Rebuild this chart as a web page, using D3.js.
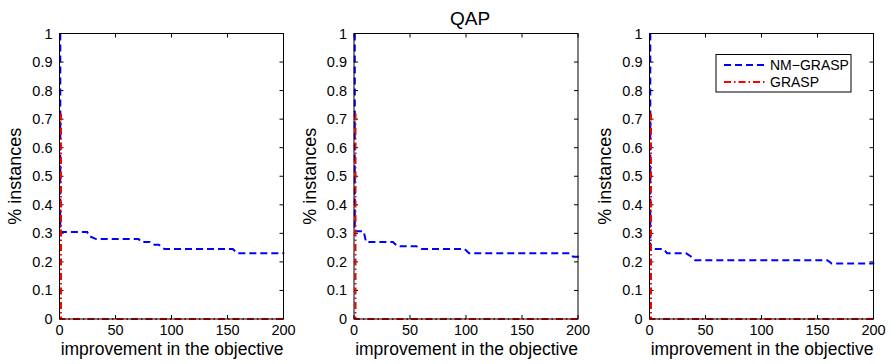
<!DOCTYPE html>
<html><head><meta charset="utf-8">
<script src="https://cdn.jsdelivr.net/npm/d3@7"></script>
<style>body{margin:0;background:#fff}svg{display:block}text{font-family:"Liberation Sans",Arial,sans-serif}</style>
</head><body>
<svg id="c" width="893" height="364"></svg>
<script>
// Data
const xTicks = [0, 50, 100, 150, 200];
const yTicks = [0, 0.1, 0.2, 0.3, 0.4, 0.5, 0.6, 0.7, 0.8, 0.9, 1];
const seriesNames = ["NM\u2212GRASP", "GRASP"];
const nm1 = [[0,1],[0,0.305],[24,0.305],[26,0.29],[32,0.28],[70,0.28],[72,0.27],[80,0.27],[84,0.26],[88,0.26],[93,0.245],[154,0.245],[158,0.23],[200,0.23]];
const nm2 = [[0,1],[0,0.307],[8,0.307],[10,0.27],[34,0.27],[38,0.255],[55,0.255],[60,0.245],[98,0.245],[102,0.23],[192,0.23],[195,0.218],[200,0.218]];
const nm3 = [[0,1],[0,0.245],[12,0.245],[15,0.23],[32,0.23],[36,0.22],[40,0.206],[158,0.206],[162,0.194],[200,0.194]];
const gr1 = [[0,0.72],[0,0],[200,0]];
const gr2 = [[0,0.72],[0,0],[200,0]];
const gr3 = [[0,0.72],[0,0],[200,0]];
const panels = [
  {left: 59.5, nm: nm1, gr: gr1, legend: false},
  {left: 354, nm: nm2, gr: gr2, legend: false},
  {left: 649.5, nm: nm3, gr: gr3, legend: true}
];
const title = "QAP";
const xLabel = "improvement in the objective";
const yLabel = "% instances";

const svg = d3.select("#c");
const W = 224, axTop = 33.5, axBottom = 319;
const tickLen = 4;

panels.forEach(p => {
  const x = d3.scaleLinear().domain([0, 200]).range([p.left, p.left + W]);
  const y = d3.scaleLinear().domain([0, 1]).range([axBottom, axTop]);
  const g = svg.append("g");
  const tg = g.append("g").attr("stroke", "#000").attr("stroke-width", 1);
  xTicks.forEach(t => {
    tg.append("line").attr("x1", x(t)).attr("x2", x(t)).attr("y1", axBottom).attr("y2", axBottom - tickLen);
    tg.append("line").attr("x1", x(t)).attr("x2", x(t)).attr("y1", axTop).attr("y2", axTop + tickLen);
  });
  yTicks.forEach(t => {
    tg.append("line").attr("x1", p.left).attr("x2", p.left + tickLen).attr("y1", y(t)).attr("y2", y(t));
    tg.append("line").attr("x1", p.left + W).attr("x2", p.left + W - tickLen).attr("y1", y(t)).attr("y2", y(t));
  });
  g.selectAll(".xt").data(xTicks).enter().append("text")
    .attr("x", d => x(d)).attr("y", 335).attr("text-anchor", "middle")
    .attr("font-size", 14.5).text(d => d);
  g.selectAll(".yt").data(yTicks).enter().append("text")
    .attr("x", p.left - 7).attr("y", d => y(d) + 5).attr("text-anchor", "end")
    .attr("font-size", 14.5).text(d => d === 0 ? "0" : d === 1 ? "1" : d3.format(".1f")(d));
  g.append("text").attr("x", p.left + W / 2 + 0.5).attr("y", 354.5).attr("text-anchor", "middle")
    .attr("font-size", 17.5).text(xLabel);
  g.append("text").attr("transform", `translate(${p.left - 38.5},${(axTop + axBottom) / 2}) rotate(-90)`)
    .attr("text-anchor", "middle").attr("font-size", 18).text(yLabel);

  const line = d3.line().x(d => x(d[0])).y(d => y(d[1]));
  g.append("path").datum(p.nm).attr("d", line).attr("fill", "none")
    .attr("stroke", "#0000ff").attr("stroke-width", 2).attr("stroke-dasharray", "7,4")
    .attr("transform", "translate(0.8,0)");
  g.append("path").datum(p.gr).attr("d", line).attr("fill", "none")
    .attr("stroke", "#ff0000").attr("stroke-width", 2).attr("stroke-dasharray", "7,3,1.5,3")
    .attr("transform", "translate(1.5,0)");
  g.append("rect").attr("x", p.left).attr("y", axTop).attr("width", W).attr("height", axBottom - axTop)
    .attr("fill", "none").attr("stroke", "#000").attr("stroke-width", 1);

  if (p.legend) {
    const lx = 716, ly = 54.5, lw = 135, lh = 37.5;
    const lg = g.append("g");
    lg.append("rect").attr("x", lx).attr("y", ly).attr("width", lw).attr("height", lh)
      .attr("fill", "#fff").attr("stroke", "#000").attr("stroke-width", 1);
    const styles = [{c: "#0000ff", d: "7,4"}, {c: "#ff0000", d: "7,3,1.5,3"}];
    seriesNames.forEach((n, i) => {
      const yy = ly + 10.5 + i * 17;
      lg.append("line").attr("x1", lx + 8).attr("x2", lx + 51).attr("y1", yy).attr("y2", yy)
        .attr("stroke", styles[i].c).attr("stroke-width", 2).attr("stroke-dasharray", styles[i].d);
      lg.append("text").attr("x", lx + 54).attr("y", yy + 5).attr("font-size", 14).text(n);
    });
  }
});

svg.append("text").attr("x", 470).attr("y", 25).attr("text-anchor", "middle")
  .attr("font-size", 19).text(title);
</script>
</body></html>
